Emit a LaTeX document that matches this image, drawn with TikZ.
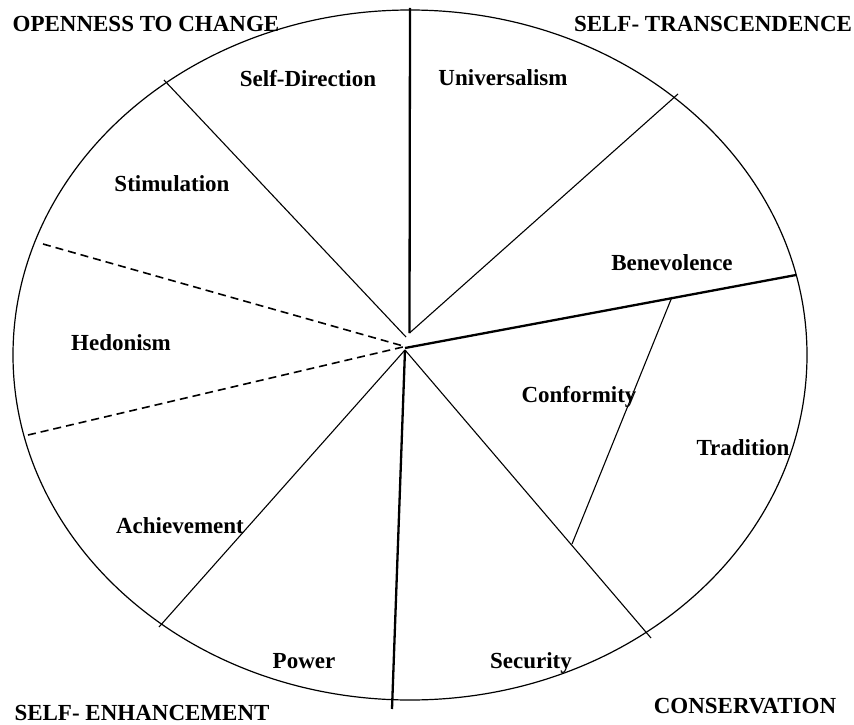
\documentclass[tikz,border=0pt]{standalone}
\usepackage{fontspec}
\setmainfont{Liberation Serif}
\begin{document}
\begin{tikzpicture}[x=1pt,y=-1pt,
  thinline/.style={line width=1.1pt},
  thickline/.style={line width=2.3pt},
  dashline/.style={line width=1.6pt,dash pattern=on 8pt off 5pt},
  lbl/.style={anchor=base,inner sep=0pt,font=\fontsize{23}{27}\selectfont\bfseries}]
\useasboundingbox (0,0) rectangle (854,725);
% ellipse
\draw[line width=1.2pt] (410,355) ellipse [x radius=397pt, y radius=345pt];
% centre points
\coordinate (ct) at (409.5,333);
\coordinate (cu) at (406,337);
\coordinate (cd) at (405,346.5);
\coordinate (cr) at (405,348);
\coordinate (cb) at (405,350);
% rim points
\coordinate (top) at (410,8);
\coordinate (ur) at (678,94);
\coordinate (ul) at (164,80);
\coordinate (r) at (796,275);
\coordinate (lr) at (651,638);
\coordinate (b) at (392,709);
\coordinate (ll) at (159,627);
\coordinate (dl1) at (43,244);
\coordinate (dl2) at (28,435);
\coordinate (cf1) at (672,297);
\coordinate (cf2) at (572,544);
% spokes
\draw[thickline] (top) -- (ct);
\draw[thinline] (ur) -- (ct);
\draw[thinline] (ul) -- (cu);
\draw[dashline] (dl1) -- (cd);
\draw[dashline] (dl2) -- (cd);
\draw[thickline] (cr) -- (r);
\draw[thickline] (cb) -- (b);
\draw[thinline] (cb) -- (ll);
\draw[thinline] (cb) -- (lr);
\draw[thinline] (cf1) -- (cf2);
% labels
\node[lbl] (oc) at (146,32) {OPENNESS TO CHANGE};
\node[lbl] (st) at (713,32) {SELF- TRANSCENDENCE};
\node[lbl] (se) at (142,720) {SELF- ENHANCEMENT};
\node[lbl] (cs) at (745,713) {CONSERVATION};
\node[lbl] (sd) at (308,86) {Self-Direction};
\node[lbl] (un) at (503,85) {Universalism};
\node[lbl] (sm) at (172,191) {Stimulation};
\node[lbl] (be) at (672,270) {Benevolence};
\node[lbl] (he) at (121,350) {Hedonism};
\node[lbl] (co) at (579,402) {Conformity};
\node[lbl] (tr) at (743,455) {Tradition};
\node[lbl] (ac) at (180,533) {Achievement};
\node[lbl] (po) at (304,668) {Power};
\node[lbl] (sc) at (531,668) {Security};
\end{tikzpicture}
\end{document}
